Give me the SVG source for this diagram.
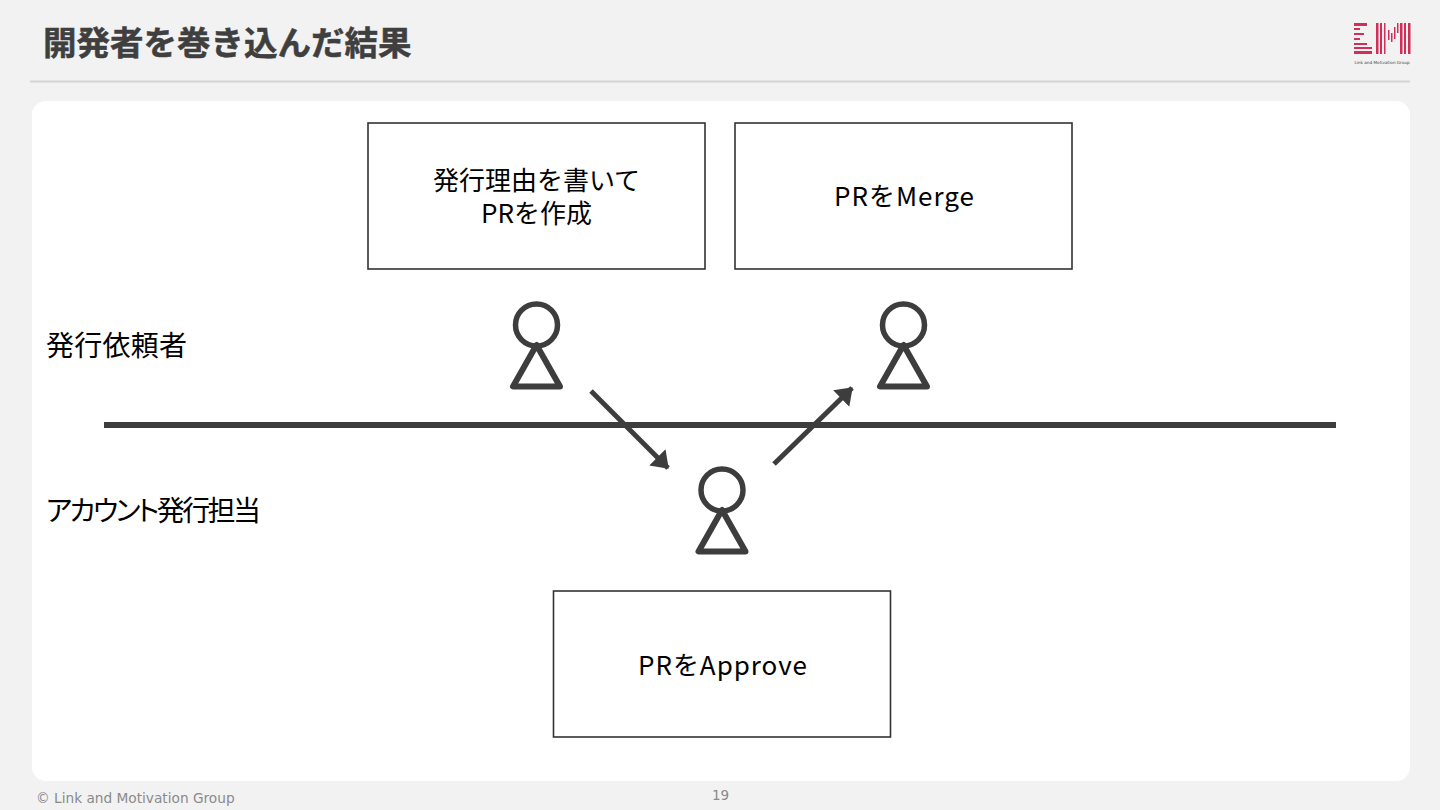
<svg xmlns="http://www.w3.org/2000/svg" width="1440" height="810" viewBox="0 0 1440 810">
<style>
text{font-family:"Noto Sans CJK JP","Noto Sans",sans-serif;}
.box{fill:#fff;stroke:#333;stroke-width:1.6;}
.lbl{font-size:26px;fill:#000;text-anchor:middle;}
.side{font-size:28px;fill:#000;font-feature-settings:"palt";}
.hd{fill:none;stroke:#3d3d3d;stroke-width:5.500;}
.bd{fill:none;stroke:#3d3d3d;stroke-width:6;stroke-linejoin:round;}
.ln{stroke:#3d3d3d;stroke-width:5;fill:none;}
.r{fill:#cf2f58;}
</style>
<defs>
<marker id="ah" markerUnits="userSpaceOnUse" markerWidth="16" markerHeight="24" viewBox="0 0 16 24" refX="15" refY="12" orient="auto"><path d="M0 0.500L16 12L0 23.500Z" fill="#3d3d3d"/></marker>
<g id="person"><circle class="hd" cx="0" cy="-37" r="21"/><path class="bd" d="M0 -17L-23.500 24.500H23.500Z"/></g>
</defs>
<rect width="1440" height="810" fill="#f2f2f2"/>
<text x="43" y="55" font-size="33.500" font-weight="700" fill="#3f3f3f" stroke="#3f3f3f" stroke-width="0.500">開発者を巻き込んだ結果</text>
<rect x="30" y="80.500" width="1380" height="2" fill="#d4d4d4"/>
<rect x="32" y="101" width="1378" height="680" rx="14" fill="#fff"/>
<g id="logo">
<rect class="r" x="1354" y="23" width="13" height="3"/><rect class="r" x="1354" y="28" width="6" height="2"/><rect class="r" x="1354" y="33" width="10" height="2"/><rect class="r" x="1354" y="38" width="6" height="2"/><rect class="r" x="1354" y="43" width="13" height="2"/><rect class="r" x="1354" y="47" width="18" height="2"/><rect class="r" x="1354" y="51" width="18" height="3"/>
<rect class="r" x="1376" y="23" width="2.500" height="31"/><rect class="r" x="1380" y="23" width="2" height="31"/><rect class="r" x="1384" y="23" width="1.500" height="31"/>
<rect class="r" x="1388" y="30" width="1.500" height="10"/><rect class="r" x="1391" y="33" width="1.500" height="9"/><rect class="r" x="1394" y="27" width="1.500" height="12"/><rect class="r" x="1397" y="23" width="1.500" height="10"/>
<rect class="r" x="1400" y="23" width="2.500" height="31"/><rect class="r" x="1404" y="23" width="2" height="31"/><rect class="r" x="1408" y="23" width="2.500" height="31"/>
<text x="1382" y="64" font-size="4.200" fill="#444" text-anchor="middle" style="font-family:'DejaVu Sans',sans-serif">Link and Motivation Group</text>
</g>
<g id="connectors">
<line x1="104" y1="425" x2="1336" y2="425" stroke="#3d3d3d" stroke-width="6"/>
<line class="ln" x1="591" y1="391" x2="668" y2="468" marker-end="url(#ah)"/>
<line class="ln" x1="774" y1="464" x2="852" y2="388" marker-end="url(#ah)"/>
</g>
<g id="box-create"><rect class="box" x="368" y="123" width="337" height="146"/><text class="lbl" x="536.500" y="190">発行理由を書いて</text><text class="lbl" x="536.500" y="223" textLength="111">PRを作成</text></g>
<g id="box-merge"><rect class="box" x="735" y="123" width="337" height="146"/><text class="lbl" x="904" y="206" textLength="140">PRをMerge</text></g>
<g id="box-approve"><rect class="box" x="553.500" y="591" width="337" height="146"/><text class="lbl" x="722.500" y="675" textLength="169">PRをApprove</text></g>
<g id="person-requester-left"><use href="#person" x="536.500" y="362"/></g>
<g id="person-requester-right"><use href="#person" x="903.500" y="362"/></g>
<g id="person-account"><use href="#person" x="722" y="527"/></g>
<g id="label-requester"><text class="side" x="46" y="356" textLength="141">発行依頼者</text></g>
<g id="label-account"><text class="side" x="46" y="521" textLength="215">アカウント発行担当</text></g>
<g id="footer">
<text x="36" y="803" font-size="13.700" fill="#8a8a8a" style="font-family:'DejaVu Sans',sans-serif">© Link and Motivation Group</text>
<text x="720.500" y="800" font-size="13.500" fill="#8a8a8a" text-anchor="middle" style="font-family:'DejaVu Sans',sans-serif">19</text>
</g>
</svg>
